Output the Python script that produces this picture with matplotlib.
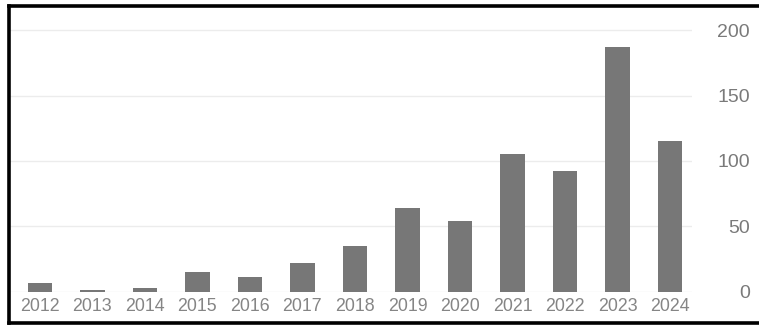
import matplotlib.pyplot as plt
from matplotlib.lines import Line2D

years = ['2012', '2013', '2014', '2015', '2016', '2017', '2018',
         '2019', '2020', '2021', '2022', '2023', '2024']
counts = [7, 1, 3, 15, 11, 22, 35, 64, 54, 105, 92, 187, 115]
yticks = [0, 50, 100, 150, 200]

plt.rcParams['font.family'] = ['Liberation Sans', 'DejaVu Sans']

fig = plt.figure(figsize=(7.59, 3.27), dpi=100)
ax = fig.add_axes([10/759, 35.3/327, 682/759, 283.7/327])

ax.bar(range(len(years)), counts, width=0.46, color='#777777', zorder=3)
ax.set_xlim(-0.57, 12.42)
ax.set_ylim(0, 216.9)
ax.set_xticks(range(len(years)))
ax.set_xticklabels(years, fontsize=12.8, color='#858585')
ax.set_yticks(yticks)
ax.yaxis.tick_right()
ax.tick_params(axis='y', length=0, pad=41.8, labelsize=14, labelcolor='#7a7a7a')
for lab in ax.get_yticklabels():
    lab.set_horizontalalignment('right')
ax.tick_params(axis='x', length=0, pad=4.5)
ax.grid(axis='y', color='#ececec', linewidth=1, zorder=0)
for s in ax.spines.values():
    s.set_visible(False)

# black frame (no right side)
W, H = 759, 327
fig.add_artist(Line2D([8.5/W, 8.5/W], [1-5.5/H, 1-323/H], color='black', lw=2.6, transform=fig.transFigure))
fig.add_artist(Line2D([8.5/W, 1], [1-5.7/H, 1-5.7/H], color='black', lw=2.6, transform=fig.transFigure))
fig.add_artist(Line2D([8.5/W, 1], [1-323/H, 1-323/H], color='black', lw=2.6, transform=fig.transFigure))

fig.savefig('out.png', dpi=100)
